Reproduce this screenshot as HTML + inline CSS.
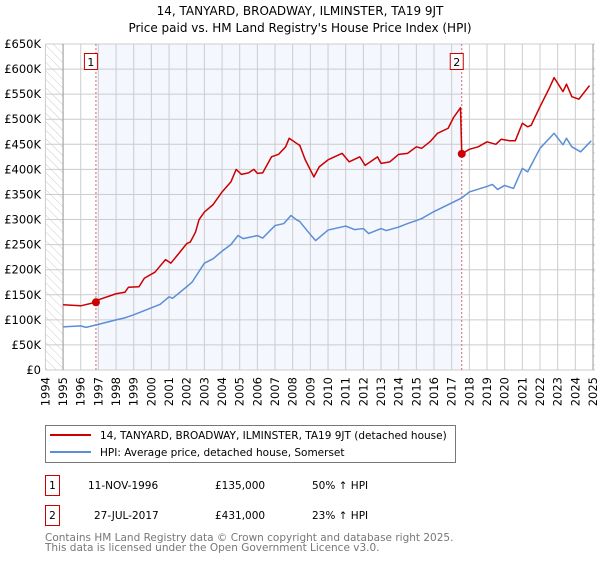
<!DOCTYPE html>
<html><head><meta charset="utf-8"><style>
body{margin:0;background:#fff;font-family:"DejaVu Sans","Liberation Sans",sans-serif;}
svg text{font-family:"DejaVu Sans","Liberation Sans",sans-serif;}
</style></head><body>
<svg id="c" width="600" height="560" xmlns="http://www.w3.org/2000/svg">
<defs><pattern id="hatch" width="6" height="6" patternUnits="userSpaceOnUse" patternTransform="rotate(-45)"><line x1="0" y1="0" x2="0" y2="6" stroke="#ccc" stroke-width="1"/></pattern></defs>
<text x="300" y="15" text-anchor="middle" font-size="12">14, TANYARD, BROADWAY, ILMINSTER, TA19 9JT</text>
<text x="300" y="32" text-anchor="middle" font-size="12">Price paid vs. HM Land Registry's House Price Index (HPI)</text>
<g id="plot"></g>
<g>
<rect x="45.5" y="425.5" width="410" height="37" fill="#fff" stroke="#777"/>
<line x1="50" y1="435" x2="91" y2="435" stroke="#cc0000" stroke-width="2"/>
<text x="100" y="439" font-size="10.5">14, TANYARD, BROADWAY, ILMINSTER, TA19 9JT (detached house)</text>
<line x1="50" y1="452" x2="91" y2="452" stroke="#5b8ed6" stroke-width="2"/>
<text x="100" y="456" font-size="10.5">HPI: Average price, detached house, Somerset</text>
</g>
<g font-size="10.5">
<rect x="45.5" y="475.5" width="14" height="20" fill="#fff" stroke="#cc0000"/>
<text x="52.5" y="489" text-anchor="middle">1</text>
<text x="88" y="489">11-NOV-1996</text><text x="215" y="489">£135,000</text><text x="312" y="489">50% ↑ HPI</text>
<rect x="45.5" y="505.5" width="14" height="20" fill="#fff" stroke="#cc0000"/>
<text x="52.5" y="519" text-anchor="middle">2</text>
<text x="94" y="519">27-JUL-2017</text><text x="215" y="519">£431,000</text><text x="312" y="519">23% ↑ HPI</text>
</g>
<text x="45" y="541" font-size="10.5" fill="#777">Contains HM Land Registry data © Crown copyright and database right 2025.</text>
<text x="45" y="551" font-size="10.5" fill="#777">This data is licensed under the Open Government Licence v3.0.</text>
</svg>
<script>
const hpiYears=[1995,1996,1996.3,1997,1998,1998.5,1999,2000,2000.5,2001,2001.2,2002,2002.3,2003,2003.5,2004,2004.5,2004.9,2005.2,2006,2006.3,2007,2007.5,2007.9,2008.2,2008.4,2009,2009.3,2010,2011,2011.5,2012,2012.3,2013,2013.3,2014,2014.5,2015,2015.3,2016,2017,2017.57,2018,2019,2019.3,2019.6,2020,2020.5,2021,2021.3,2022,2022.8,2023.3,2023.5,2023.8,2024.3,2024.9];
const hpiValues=[86,88,85,91,100,104,110,124,131,146,143,166,175,213,222,237,250,268,262,268,263,288,292,308,300,296,270,258,279,287,280,282,272,282,278,285,292,298,302,316,333,343,355,366,370,360,368,362,402,395,442,472,449,462,445,435,457];
const priceYears=[1995,1996,1996.86,1997,1998,1998.5,1998.7,1999.3,1999.6,2000.2,2000.8,2001.1,2001.5,2002,2002.2,2002.5,2002.7,2003,2003.5,2004,2004.5,2004.8,2005.1,2005.5,2005.8,2006,2006.3,2006.8,2007.2,2007.6,2007.8,2008.3,2008.4,2008.7,2009.2,2009.5,2010,2010.8,2011.2,2011.8,2012.1,2012.8,2013,2013.5,2014,2014.5,2015,2015.3,2015.8,2016.2,2016.8,2017.1,2017.5,2017.57,2018,2018.5,2019,2019.5,2019.8,2020.3,2020.6,2021,2021.3,2021.5,2022,2022.5,2022.8,2023.3,2023.5,2023.8,2024.2,2024.8];
const priceValues=[130,128,135,140,152,155,165,166,183,195,220,213,230,252,255,275,300,315,330,355,375,400,390,393,400,392,393,425,430,445,462,450,448,420,385,405,419,432,415,425,408,425,412,415,430,432,445,442,456,472,482,503,523,431,440,445,455,450,460,457,457,492,485,488,525,560,583,555,570,545,540,567];
const saleYears=[1996.86,2017.57];
const saleValues=[135,431];
const yTicks=[0,50,100,150,200,250,300,350,400,450,500,550,600,650];
const yTickLabels=["£0","£50K","£100K","£150K","£200K","£250K","£300K","£350K","£400K","£450K","£500K","£550K","£600K","£650K"];
const xTicks=[1994,1995,1996,1997,1998,1999,2000,2001,2002,2003,2004,2005,2006,2007,2008,2009,2010,2011,2012,2013,2014,2015,2016,2017,2018,2019,2020,2021,2022,2023,2024,2025];
const X0=45.4,X1=593,Y0=370,Y1=44;
const xs=y=>X0+(y-1994)*(X1-X0)/31;
const ys=v=>Y0-v*(Y0-Y1)/650;
const NS="http://www.w3.org/2000/svg";
const g=document.getElementById('plot');
function mk(t,a,p){const e=document.createElementNS(NS,t);for(const k in a)e.setAttribute(k,a[k]);(p||g).appendChild(e);return e;}
let e;
e=mk('rect',{x:xs(1994),y:Y1,width:xs(1995)-xs(1994),height:Y0-Y1,fill:'url(#hatch)'});


e=mk('rect',{x:xs(2025),y:Y1,width:2,height:Y0-Y1,fill:'url(#hatch)'});


e=mk('rect',{x:xs(saleYears[0]),y:Y1,width:xs(saleYears[1])-xs(saleYears[0]),height:Y0-Y1,fill:'#f4f7fe'});


yTicks.forEach((v,i)=>{
 e=mk('line',{x1:X0,x2:X1+2,y1:ys(v),y2:ys(v),stroke:'#ccc','stroke-width':1});
 
 
 e=mk('text',{x:41,y:ys(v)+4,'text-anchor':'end','font-size':11.5});
 e.textContent=yTickLabels[i];
 
 
});
xTicks.forEach(yr=>{
 e=mk('line',{x1:xs(yr),x2:xs(yr),y1:Y1,y2:Y0,stroke:'#ccc','stroke-width':1});
 
 
 e=mk('text',{x:0,y:0,'text-anchor':'end','font-size':11.5,transform:`translate(${xs(yr)+4},377) rotate(-90)`});
 e.textContent=yr;
 
 
});
e=mk('line',{x1:xs(1995),x2:xs(1995),y1:Y1,y2:Y0,stroke:'#999'});


e=mk('line',{x1:xs(2025),x2:xs(2025),y1:Y1,y2:Y0,stroke:'#999'});


saleYears.forEach((yr,i)=>{
 e=mk('line',{x1:xs(yr),x2:xs(yr),y1:Y1,y2:Y0,stroke:'#e06666','stroke-dasharray':'2,2'});
 
 
 e=mk('rect',{x:xs(yr)-11.5,y:53.5,width:13,height:16,fill:'#fff',stroke:'#cc0000'});
 
 
 e=mk('text',{x:xs(yr)-5,y:66,'text-anchor':'middle','font-size':11});
 e.textContent=String(i+1);
 
 
});
e=mk('polyline',{points:hpiYears.map((y,i)=>xs(y)+','+ys(hpiValues[i])).join(' '),fill:'none',stroke:'#5b8ed6','stroke-width':1.5,'stroke-linejoin':'round'});


e=mk('polyline',{points:priceYears.map((y,i)=>xs(y)+','+ys(priceValues[i])).join(' '),fill:'none',stroke:'#cc0000','stroke-width':1.5,'stroke-linejoin':'round'});


saleYears.forEach((yr,i)=>{
 e=mk('circle',{cx:xs(yr),cy:ys(saleValues[i]),r:4,fill:'#cc0000'});
 
 
});
</script>
</body></html>
